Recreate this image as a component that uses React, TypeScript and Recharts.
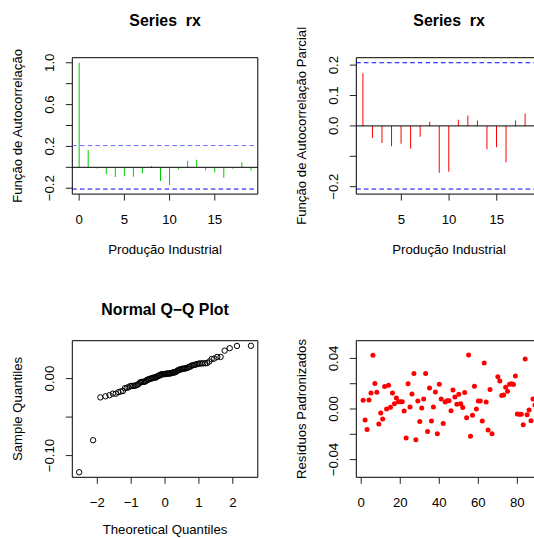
import React from "react";
import {
  ComposedChart,
  ScatterChart,
  Bar,
  Scatter,
  XAxis,
  YAxis,
  ReferenceLine,
  ReferenceArea,
} from "recharts";

// ---------------- data ----------------
const acfLags = [0, 1, 2, 3, 4, 5, 6, 7, 8, 9, 10, 11, 12, 13, 14, 15, 16, 17, 18, 19];
const acfValues = [
  1.0, 0.165, -0.012, -0.067, -0.092, -0.086, -0.09, -0.057, 0.012, -0.13,
  -0.168, -0.02, 0.064, 0.073, -0.029, -0.05, -0.1, -0.013, 0.048, -0.03,
];
const pacfLags = [1, 2, 3, 4, 5, 6, 7, 8, 9, 10, 11, 12, 13, 14, 15, 16, 17, 18, 19];
const pacfValues = [
  0.173, -0.04, -0.056, -0.067, -0.059, -0.075, -0.036, 0.014, -0.154, -0.151,
  0.02, 0.034, 0.018, -0.077, -0.07, -0.12, 0.018, 0.041, -0.098,
];
const confLimit = 0.2078;

// standardized residuals, observation 1..89
const residuals = [
  0.0069, -0.0087, -0.0162, 0.0072, 0.0127, 0.0424, 0.0201, 0.0132, -0.0119, -0.0032,
  -0.0079, 0.0177, 0.0, 0.0188, 0.0013, 0.0127, 0.0042, 0.0087, 0.0058, 0.0058,
  0.0058, -0.0016, -0.023, 0.0199, 0.0016, 0.0119, 0.0281, -0.0244, 0.0064, -0.0098,
  0.0008, 0.0079, 0.0281, -0.0177, 0.0167, -0.0095, 0.0016, 0.0135, -0.0196, 0.0196,
  0.0079, -0.0114, 0.0056, 0.0066, 0.0066, -0.0013, 0.0151, 0.0095, 0.0037, 0.0117,
  0.0042, 0.0011, 0.013, -0.0069, 0.0426, -0.0215, -0.005, 0.018, 0.0, 0.0064,
  0.0064, -0.0095, 0.0363, 0.0056, -0.0167, 0.0154, -0.0196, -0.1216, -0.08, 0.0254,
  0.0222, 0.0106, 0.0111, 0.0172, 0.014, 0.0196, 0.0199, 0.0193, 0.026, -0.004,
  -0.0042, -0.0042, -0.0125, 0.0395, -0.0045, -0.0008, -0.0093, 0.008, 0.003,
];

// tick values and labels
const acfXTicks = [0, 5, 10, 15];
const acfXLabels = ["0", "5", "10", "15"];
const acfYTicks = [-0.2, 0, 0.2, 0.4, 0.6, 0.8, 1.0];
const acfYLabels = ["\u22120.2", "", "0.2", "", "0.6", "", "1.0"];
const pacfXTicks = [5, 10, 15];
const pacfXLabels = ["5", "10", "15"];
const pacfYTicks = [-0.2, -0.1, 0, 0.1, 0.2];
const pacfYLabels = ["\u22120.2", "", "0.0", "0.1", "0.2"];
const qqXTicks = [-2, -1, 0, 1, 2];
const qqXLabels = ["\u22122", "\u22121", "0", "1", "2"];
const qqYTicks = [-0.1, -0.05, 0];
const qqYLabels = ["\u22120.10", "", "0.00"];
const resXTicks = [0, 20, 40, 60, 80];
const resXLabels = ["0", "20", "40", "60", "80"];
const resYTicks = [-0.04, -0.02, 0, 0.02, 0.04];
const resYLabels = ["\u22120.04", "", "0.00", "", "0.04"];

// ---------------- derived tables ----------------
const acfData = acfLags.map((lag, i) => ({ lag, acf: acfValues[i] }));
const pacfData = pacfLags.map((lag, i) => ({ lag, pacf: pacfValues[i] }));
const residualPoints = residuals.map((value, i) => ({ index: i + 1, value }));

// normal quantile function (used for the theoretical axis of the Q-Q plot)
function qnorm(p: number): number {
  const a = [-39.69683028665376, 220.9460984245205, -275.9285104469687, 138.357751867269, -30.66479806614716, 2.506628277459239];
  const b = [-54.47609879822406, 161.5858368580409, -155.6989798598866, 66.80131188771972, -13.28068155288572];
  const c = [-0.007784894002430293, -0.3223964580411365, -2.400758277161838, -2.549732539343734, 4.374664141464968, 2.938163982698783];
  const d = [0.007784695709041462, 0.3224671290700398, 2.445134137142996, 3.754408661907416];
  const pl = 0.02425;
  if (p < pl) {
    const q = Math.sqrt(-2 * Math.log(p));
    return (((((c[0] * q + c[1]) * q + c[2]) * q + c[3]) * q + c[4]) * q + c[5]) /
      ((((d[0] * q + d[1]) * q + d[2]) * q + d[3]) * q + 1);
  }
  if (p <= 1 - pl) {
    const q = p - 0.5;
    const r = q * q;
    return ((((((a[0] * r + a[1]) * r + a[2]) * r + a[3]) * r + a[4]) * r + a[5]) * q) /
      (((((b[0] * r + b[1]) * r + b[2]) * r + b[3]) * r + b[4]) * r + 1);
  }
  const q = Math.sqrt(-2 * Math.log(1 - p));
  return -(((((c[0] * q + c[1]) * q + c[2]) * q + c[3]) * q + c[4]) * q + c[5]) /
    ((((d[0] * q + d[1]) * q + d[2]) * q + d[3]) * q + 1);
}
const sortedResiduals = [...residuals].sort((x, y) => x - y);
const qqPoints = sortedResiduals.map((sample, i) => ({
  theoretical: qnorm((i + 1 - 0.5) / sortedResiduals.length),
  sample,
}));

// ---------------- styling ----------------
const FONT = '"Liberation Sans", Arial, Helvetica, sans-serif';
const FS = 13.2;
const TITLE_FS = 15.9;
const TICK = 6.5;
const Y_AXIS_W = 72.3;
const PLOT_W = 185.5;
const CHART_W = Y_AXIS_W + PLOT_W + 22;
const CHART_H = 269;

function makeXTick(ticks: number[], labels: string[]) {
  return (props: any) => {
    const { x, y, payload } = props;
    const idx = ticks.indexOf(payload.value);
    const text = idx >= 0 ? labels[idx] : "";
    return (
      <text x={x} y={y + 23.5} textAnchor="middle" fontSize={FS} fontFamily={FONT} fill="#000">
        {text}
      </text>
    );
  };
}

function makeYTick(ticks: number[], labels: string[]) {
  return (props: any) => {
    const { x, y, payload } = props;
    const idx = ticks.indexOf(payload.value);
    const text = idx >= 0 ? labels[idx] : "";
    const bx = x - 11.3;
    return (
      <text
        x={bx}
        y={y}
        transform={`rotate(-90 ${bx} ${y})`}
        textAnchor="middle"
        fontSize={FS}
        fontFamily={FONT}
        fill="#000"
      >
        {text}
      </text>
    );
  };
}

function xTitle(text: string, offset: number) {
  return (props: any) => {
    const vb = props.viewBox;
    return (
      <text x={vb.x + vb.width / 2} y={vb.y + offset} textAnchor="middle" fontSize={FS} fontFamily={FONT} fill="#000">
        {text}
      </text>
    );
  };
}

function yTitle(text: string) {
  return (props: any) => {
    const vb = props.viewBox;
    const bx = vb.x + vb.width - 50;
    const cy = vb.y + vb.height / 2;
    return (
      <text
        x={bx}
        y={cy}
        transform={`rotate(-90 ${bx} ${cy})`}
        textAnchor="middle"
        fontSize={FS}
        fontFamily={FONT}
        fill="#000"
      >
        {text}
      </text>
    );
  };
}

function mainTitle(text: string, offset: number) {
  return (props: any) => {
    const vb = props.viewBox;
    return (
      <text
        x={vb.x + vb.width / 2}
        y={vb.y - offset}
        textAnchor="middle"
        fontSize={TITLE_FS}
        fontWeight="bold"
        fontFamily={FONT}
        fill="#000"
        style={{ whiteSpace: "pre" }}
      >
        {text}
      </text>
    );
  };
}

const tickLineStyle = { stroke: "#222", strokeWidth: 1 };

function Panel({ left, top, children }: { left: number; top: number; children: React.ReactNode }) {
  return <div style={{ position: "absolute", left, top, width: CHART_W, height: CHART_H }}>{children}</div>;
}

const acfTitle = "Series\u00A0\u00A0rx";

export default function App() {
  const acfX: [number, number] = [-0.76, 19.76];
  const acfY: [number, number] = [-0.2561, 1.0483];
  const pacfX: [number, number] = [0.28, 19.72];
  const pacfY: [number, number] = [-0.2244, 0.2244];
  const qqX: [number, number] = [-2.738, 2.738];
  const qqY: [number, number] = [-0.1282, 0.0492];
  const resX: [number, number] = [-2.52, 92.52];
  const resY: [number, number] = [-0.054, 0.054];

  return (
    <div
      style={{
        position: "absolute",
        left: 0,
        top: 0,
        width: 534,
        height: 538,
        overflow: "hidden",
        background: "#fff",
      }}
    >
      {/* ACF */}
      <Panel left={0} top={0}>
        <ComposedChart
          width={CHART_W}
          height={CHART_H}
          data={acfData}
          margin={{ top: 57.7, right: 22, bottom: 0, left: 0 }}
        >
          <XAxis
            dataKey="lag"
            type="number"
            domain={acfX}
            allowDataOverflow
            ticks={acfXTicks}
            interval={0}
            height={74.9}
            axisLine={false}
            tickLine={tickLineStyle}
            tickSize={TICK}
            tickMargin={0}
            tick={makeXTick(acfXTicks, acfXLabels)}
            label={{ content: xTitle("Produção Industrial", 59.6) }}
          />
          <YAxis
            type="number"
            domain={acfY}
            allowDataOverflow
            ticks={acfYTicks}
            interval={0}
            width={Y_AXIS_W}
            axisLine={false}
            tickLine={tickLineStyle}
            tickSize={TICK}
            tickMargin={0}
            tick={makeYTick(acfYTicks, acfYLabels)}
            label={{ content: yTitle("Função de Autocorrelação") }}
          />
          <ReferenceLine y={0} stroke="#000" strokeWidth={1} />
          <ReferenceLine y={confLimit} stroke="#6A6AFF" strokeWidth={1} strokeDasharray="4.5 3.2" />
          <ReferenceLine y={-confLimit} stroke="#0000FF" strokeWidth={1} strokeDasharray="4.5 3.2" />
          <Bar dataKey="acf" barSize={1} fill="#00CD00" isAnimationActive={false} />
          <ReferenceArea
            x1={acfX[0]}
            x2={acfX[1]}
            y1={acfY[0]}
            y2={acfY[1]}
            fill="none"
            fillOpacity={0}
            stroke="#000"
            strokeWidth={1}
            label={{ content: mainTitle(acfTitle, 31.2) }}
          />
        </ComposedChart>
      </Panel>

      {/* PACF */}
      <Panel left={284} top={0}>
        <ComposedChart
          width={CHART_W}
          height={CHART_H}
          data={pacfData}
          margin={{ top: 57.7, right: 22, bottom: 0, left: 0 }}
        >
          <XAxis
            dataKey="lag"
            type="number"
            domain={pacfX}
            allowDataOverflow
            ticks={pacfXTicks}
            interval={0}
            height={74.9}
            axisLine={false}
            tickLine={tickLineStyle}
            tickSize={TICK}
            tickMargin={0}
            tick={makeXTick(pacfXTicks, pacfXLabels)}
            label={{ content: xTitle("Produção Industrial", 59.6) }}
          />
          <YAxis
            type="number"
            domain={pacfY}
            allowDataOverflow
            ticks={pacfYTicks}
            interval={0}
            width={Y_AXIS_W}
            axisLine={false}
            tickLine={tickLineStyle}
            tickSize={TICK}
            tickMargin={0}
            tick={makeYTick(pacfYTicks, pacfYLabels)}
            label={{ content: yTitle("Função de Autocorrelação Parcial") }}
          />
          <ReferenceLine y={0} stroke="#000" strokeWidth={1} />
          <ReferenceLine y={confLimit} stroke="#0000FF" strokeWidth={1} strokeDasharray="4.5 3.2" />
          <ReferenceLine y={-confLimit} stroke="#0000FF" strokeWidth={1} strokeDasharray="4.5 3.2" />
          <Bar dataKey="pacf" barSize={1} fill="#FF0000" isAnimationActive={false} />
          <ReferenceArea
            x1={pacfX[0]}
            x2={pacfX[1]}
            y1={pacfY[0]}
            y2={pacfY[1]}
            fill="none"
            fillOpacity={0}
            stroke="#000"
            strokeWidth={1}
            label={{ content: mainTitle(acfTitle, 31.2) }}
          />
        </ComposedChart>
      </Panel>

      {/* Normal Q-Q */}
      <Panel left={0} top={269}>
        <ScatterChart width={CHART_W} height={CHART_H} margin={{ top: 71.7, right: 22, bottom: 0, left: 0 }}>
          <XAxis
            dataKey="theoretical"
            type="number"
            domain={qqX}
            allowDataOverflow
            ticks={qqXTicks}
            interval={0}
            height={60.7}
            axisLine={false}
            tickLine={tickLineStyle}
            tickSize={TICK}
            tickMargin={0}
            tick={makeXTick(qqXTicks, qqXLabels)}
            label={{ content: xTitle("Theoretical Quantiles", 56.8) }}
          />
          <YAxis
            dataKey="sample"
            type="number"
            domain={qqY}
            allowDataOverflow
            ticks={qqYTicks}
            interval={0}
            width={Y_AXIS_W}
            axisLine={false}
            tickLine={tickLineStyle}
            tickSize={TICK}
            tickMargin={0}
            tick={makeYTick(qqYTicks, qqYLabels)}
            label={{ content: yTitle("Sample Quantiles") }}
          />
          <Scatter
            data={qqPoints}
            isAnimationActive={false}
            shape={(p: any) => <circle cx={p.cx} cy={p.cy} r={2.7} fill="none" stroke="#000" strokeWidth={1} />}
          />
          <ReferenceArea
            x1={qqX[0]}
            x2={qqX[1]}
            y1={qqY[0]}
            y2={qqY[1]}
            fill="none"
            fillOpacity={0}
            stroke="#000"
            strokeWidth={1}
            label={{ content: mainTitle("Normal Q\u2212Q Plot", 26) }}
          />
        </ScatterChart>
      </Panel>

      {/* Standardized residuals */}
      <Panel left={284} top={269}>
        <ScatterChart width={CHART_W} height={CHART_H} margin={{ top: 71.7, right: 22, bottom: 0, left: 0 }}>
          <XAxis
            dataKey="index"
            type="number"
            domain={resX}
            allowDataOverflow
            ticks={resXTicks}
            interval={0}
            height={60.7}
            axisLine={false}
            tickLine={tickLineStyle}
            tickSize={TICK}
            tickMargin={0}
            tick={makeXTick(resXTicks, resXLabels)}
          />
          <YAxis
            dataKey="value"
            type="number"
            domain={resY}
            allowDataOverflow
            ticks={resYTicks}
            interval={0}
            width={Y_AXIS_W}
            axisLine={false}
            tickLine={tickLineStyle}
            tickSize={TICK}
            tickMargin={0}
            tick={makeYTick(resYTicks, resYLabels)}
            label={{ content: yTitle("Resíduos Padronizados") }}
          />
          <Scatter
            data={residualPoints}
            isAnimationActive={false}
            shape={(p: any) => <circle cx={p.cx} cy={p.cy} r={2.5} fill="#FF0000" />}
          />
          <ReferenceArea
            x1={resX[0]}
            x2={resX[1]}
            y1={resY[0]}
            y2={resY[1]}
            fill="none"
            fillOpacity={0}
            stroke="#000"
            strokeWidth={1}
          />
        </ScatterChart>
      </Panel>
    </div>
  );
}
